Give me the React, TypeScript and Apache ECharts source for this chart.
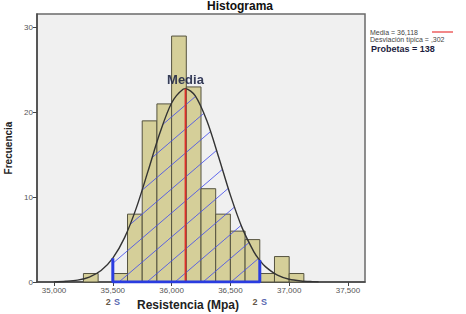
import React, { useEffect, useRef } from "react";
import * as echarts from "echarts";

// ---- data ----
const binLows = [35250, 35375, 35500, 35625, 35750, 35875, 36000, 36125, 36250, 36375, 36500, 36625, 36750, 36875, 37000];
const binWidth = 125;
const counts = [1, 0, 1, 8, 19, 21, 29, 23, 11, 8, 6, 5, 1, 3, 1];

const curveX = [35000, 35100, 35200, 35300, 35400, 35500, 35600, 35700, 35800, 35900, 36000, 36100, 36118, 36200, 36300, 36400, 36500, 36600, 36700, 36750, 36800, 36900, 37000, 37100, 37200, 37250];
const curveY = [0.02, 0.08, 0.22, 0.58, 1.35, 2.81, 5.23, 8.74, 13.1, 17.56, 21.11, 22.75, 22.79, 21.97, 19.0, 14.74, 10.24, 6.38, 3.56, 2.55, 1.78, 0.8, 0.32, 0.12, 0.04, 0.02];

const meanValue = 36118;
const meanHeight = 22.79;
const twoSLow = 35500;
const twoSHigh = 36750;
const twoSLowHeight = 2.81;
const twoSHighHeight = 2.6;

const xTicks = [35000, 35500, 36000, 36500, 37000, 37500];
const yTicks = [0, 10, 20, 30];
const xMin = 34855;
const xMax = 37645;
const yMax = 31.6;

const legendLines = ["Media = 36,118", "Desviación típica = ,302", "Probetas = 138"];

const FONT = "'Liberation Sans', Arial, sans-serif";

function makeHatch(): HTMLCanvasElement {
  const c = document.createElement("canvas");
  const w = 28, h = 24;
  c.width = w;
  c.height = h;
  const ctx = c.getContext("2d")!;
  ctx.strokeStyle = "rgba(70,80,235,0.85)";
  ctx.lineWidth = 1;
  for (const dx of [-w, 0, w]) {
    ctx.beginPath();
    ctx.moveTo(dx, h);
    ctx.lineTo(dx + w, 0);
    ctx.stroke();
  }
  return c;
}

export default function App() {
  const ref = useRef<HTMLDivElement>(null);
  useEffect(() => {
    if (!ref.current) return;
    const chart = echarts.init(ref.current, undefined, { renderer: "svg" });

    const barData = binLows.map((lo, i) => [lo, lo + binWidth, counts[i]]);
    const curveData = curveX.map((x, i) => [x, curveY[i]]);
    const hatchData = curveData.filter((p) => p[0] >= twoSLow && p[0] <= twoSHigh);
    const twoSData = [
      [twoSLow, twoSLowHeight],
      [twoSLow, 0],
      [twoSHigh, 0],
      [twoSHigh, twoSHighHeight],
    ];
    const hatch = makeHatch();

    chart.setOption({
      animation: false,
      textStyle: { fontFamily: FONT },
      grid: {
        left: 37,
        top: 14,
        right: 101,
        bottom: 32,
        outerBoundsMode: "none",
        containLabel: false,
        show: true,
        backgroundColor: "#f0f0f0",
        borderColor: "#6a6a6a",
        borderWidth: 1.5,
      },
      xAxis: {
        type: "value",
        min: xMin,
        max: xMax,
        splitLine: { show: false },
        axisLine: { show: true, onZero: false, lineStyle: { color: "#444", width: 1.5 } },
        axisTick: { show: true, length: 4, customValues: xTicks, lineStyle: { color: "#444" } },
        axisLabel: {
          customValues: xTicks,
          color: "#555",
          fontSize: 8,
          margin: 4,
          formatter: (v: number) => String(Math.round(v)).replace(/(\d)(\d{3})$/, "$1,$2"),
        },
      },
      yAxis: {
        type: "value",
        min: 0,
        max: yMax,
        name: "Frecuencia",
        nameLocation: "middle",
        nameGap: 24,
        nameTextStyle: { fontWeight: "bold", fontSize: 10, color: "#222" },
        splitLine: { show: false },
        axisLine: { show: true, lineStyle: { color: "#444", width: 1.5 } },
        axisTick: { show: true, length: 4, customValues: yTicks, lineStyle: { color: "#444" } },
        axisLabel: { customValues: yTicks, color: "#555", fontSize: 8, margin: 4 },
      },
      series: [
        {
          type: "custom",
          z: 2,
          data: barData,
          encode: { x: [0, 1], y: 2 },
          renderItem: (params: any, api: any) => {
            const c = api.value(2);
            if (!c) return null;
            const p0 = api.coord([api.value(0), c]);
            const p1 = api.coord([api.value(1), 0]);
            return {
              type: "rect",
              shape: { x: p0[0], y: p0[1], width: p1[0] - p0[0], height: p1[1] - p0[1] },
              style: { fill: "#d5cf99", stroke: "#55533f", lineWidth: 1 },
            };
          },
        },
        {
          type: "line",
          z: 3,
          data: hatchData,
          smooth: 0.3,
          showSymbol: false,
          silent: true,
          lineStyle: { width: 0, opacity: 0 },
          areaStyle: {
            color: { image: hatch, repeat: "repeat", imageWidth: 28, imageHeight: 24 },
            opacity: 1,
          },
        },
        {
          type: "line",
          z: 4,
          data: curveData,
          smooth: 0.3,
          showSymbol: false,
          lineStyle: { color: "#333", width: 1.4 },
        },
        {
          type: "line",
          z: 5,
          data: [
            [meanValue, 0],
            [meanValue, meanHeight],
          ],
          showSymbol: false,
          lineStyle: { color: "#e0302a", width: 1.8 },
        },
        {
          type: "line",
          z: 6,
          data: twoSData,
          showSymbol: false,
          lineStyle: { color: "#2a3ce0", width: 3 },
        },
        {
          type: "scatter",
          z: 7,
          symbolSize: 1,
          itemStyle: { color: "transparent" },
          data: [[meanValue, meanHeight]],
          label: {
            show: true,
            position: "top",
            distance: 2,
            formatter: "Media",
            fontWeight: "bold",
            fontSize: 13,
            color: "#111",
            textShadowColor: "rgba(60,90,200,0.35)",
            textShadowBlur: 1,
          },
        },
        {
          type: "scatter",
          z: 7,
          symbolSize: 1,
          itemStyle: { color: "transparent" },
          data: [
            [twoSLow, 0],
            [twoSHigh, 0],
          ],
          label: {
            show: true,
            position: "bottom",
            distance: 13,
            formatter: "{a|2} {b|S}",
            rich: {
              a: { fontWeight: "bold", fontSize: 9, color: "#3a2a10" },
              b: { fontWeight: "bold", fontSize: 9, color: "#2a3c9a" },
            },
          },
        },
      ],
      graphic: [
        {
          type: "text",
          x: 240,
          y: 6,
          style: {
            text: "Histograma",
            fontFamily: FONT,
            fontWeight: "bold",
            fontSize: 12,
            fill: "#111",
            align: "center",
            verticalAlign: "middle",
          },
        },
        {
          type: "text",
          x: 188,
          y: 305,
          style: {
            text: "Resistencia (Mpa)",
            fontFamily: FONT,
            fontWeight: "bold",
            fontSize: 12,
            fill: "#222",
            align: "center",
            verticalAlign: "middle",
          },
        },
        {
          type: "text",
          x: 370,
          y: 32,
          style: { text: legendLines[0], fontFamily: FONT, fontSize: 7, fill: "#444", verticalAlign: "middle" },
        },
        {
          type: "line",
          shape: { x1: 432, y1: 32, x2: 453, y2: 32 },
          style: { stroke: "#ee6060", lineWidth: 1.5 },
        },
        {
          type: "text",
          x: 370,
          y: 39.5,
          style: { text: legendLines[1], fontFamily: FONT, fontSize: 7, fill: "#444", verticalAlign: "middle" },
        },
        {
          type: "text",
          x: 371,
          y: 48.5,
          style: {
            text: legendLines[2],
            fontFamily: FONT,
            fontSize: 9,
            fontWeight: "bold",
            fill: "#1c1c40",
            verticalAlign: "middle",
          },
        },
      ],
    });
    return () => chart.dispose();
  }, []);
  return <div ref={ref} style={{ position: "absolute", left: 0, top: 0, width: 466, height: 314, background: "#fff" }} />;
}
